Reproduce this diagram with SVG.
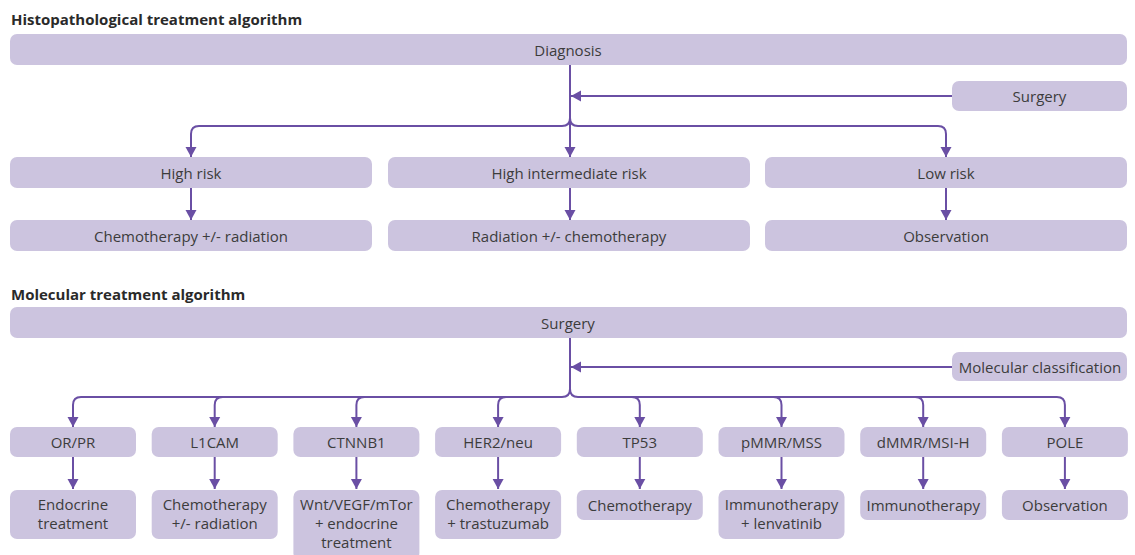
<svg xmlns="http://www.w3.org/2000/svg" width="1135" height="555" viewBox="0 0 1135 555">
<style>
.bg{fill:#ffffff}
.box{fill:#ccc4df}
.t{font-family:"Open Sans","Noto Sans",sans-serif;font-size:15px;fill:#3c3c3c;text-anchor:middle;dominant-baseline:central}
.title{font-family:"Open Sans","Noto Sans",sans-serif;font-size:15px;font-weight:bold;fill:#2a2a2a}
.c{fill:none;stroke:#6a4fa4;stroke-width:2}
</style>
<defs>
<marker id="ah" markerUnits="userSpaceOnUse" markerWidth="12" markerHeight="12" viewBox="0 0 12 12" refX="10" refY="6" orient="auto">
<path d="M0,0.5 L10,6 L0,11.5 Z" fill="#6a4fa4"/>
</marker>
</defs>
<rect class="bg" x="0" y="0" width="1135" height="555"/>

<text class="title" x="11" y="25">Histopathological treatment algorithm</text>
<text class="title" x="11" y="300">Molecular treatment algorithm</text>

<g id="connectors">
<path class="c" d="M570,65 V157" marker-end="url(#ah)"/>
<path class="c" d="M570,118 Q570,126 562,126 H199 Q191,126 191,134 V157" marker-end="url(#ah)"/>
<path class="c" d="M570,118 Q570,126 578,126 H938 Q946,126 946,134 V157" marker-end="url(#ah)"/>
<path class="c" d="M952,96 H571" marker-end="url(#ah)"/>
<path class="c" d="M191,187 V220" marker-end="url(#ah)"/>
<path class="c" d="M570,187 V220" marker-end="url(#ah)"/>
<path class="c" d="M946,187 V220" marker-end="url(#ah)"/>

<path class="c" d="M570,338 V389"/>
<path class="c" d="M952,367 H571" marker-end="url(#ah)"/>
<path class="c" d="M570,389 Q570,397 562,397 H81 Q73,397 73,405 V427" marker-end="url(#ah)"/>
<path class="c" d="M222.7,397 Q214.7,397 214.7,405 V427" marker-end="url(#ah)"/>
<path class="c" d="M364.4,397 Q356.4,397 356.4,405 V427" marker-end="url(#ah)"/>
<path class="c" d="M506.1,397 Q498.1,397 498.1,405 V427" marker-end="url(#ah)"/>
<path class="c" d="M570,389 Q570,397 578,397 H1056.9 Q1064.9,397 1064.9,405 V427" marker-end="url(#ah)"/>
<path class="c" d="M631.8,397 Q639.8,397 639.8,405 V427" marker-end="url(#ah)"/>
<path class="c" d="M773.5,397 Q781.5,397 781.5,405 V427" marker-end="url(#ah)"/>
<path class="c" d="M915.2,397 Q923.2,397 923.2,405 V427" marker-end="url(#ah)"/>

<path class="c" d="M73,457 V489" marker-end="url(#ah)"/>
<path class="c" d="M214.7,457 V489" marker-end="url(#ah)"/>
<path class="c" d="M356.4,457 V489" marker-end="url(#ah)"/>
<path class="c" d="M498.1,457 V489" marker-end="url(#ah)"/>
<path class="c" d="M639.8,457 V489" marker-end="url(#ah)"/>
<path class="c" d="M781.5,457 V489" marker-end="url(#ah)"/>
<path class="c" d="M923.2,457 V489" marker-end="url(#ah)"/>
<path class="c" d="M1064.9,457 V489" marker-end="url(#ah)"/>
</g>

<g id="n-diagnosis"><rect class="box" x="10" y="34" width="1117" height="31" rx="7"/><text class="t" x="568" y="49.5">Diagnosis</text></g>
<g id="n-surgery1"><rect class="box" x="952" y="81" width="175" height="30" rx="7"/><text class="t" x="1039.5" y="96">Surgery</text></g>
<g id="n-highrisk"><rect class="box" x="10" y="157" width="362" height="31" rx="7"/><text class="t" x="191" y="172.5">High risk</text></g>
<g id="n-hir"><rect class="box" x="388" y="157" width="362" height="31" rx="7"/><text class="t" x="569" y="172.5">High intermediate risk</text></g>
<g id="n-lowrisk"><rect class="box" x="765" y="157" width="362" height="31" rx="7"/><text class="t" x="946" y="172.5">Low risk</text></g>
<g id="n-chemorad"><rect class="box" x="10" y="220" width="362" height="31" rx="7"/><text class="t" x="191" y="235.5">Chemotherapy +/- radiation</text></g>
<g id="n-radchemo"><rect class="box" x="388" y="220" width="362" height="31" rx="7"/><text class="t" x="569" y="235.5">Radiation +/- chemotherapy</text></g>
<g id="n-obs1"><rect class="box" x="765" y="220" width="362" height="31" rx="7"/><text class="t" x="946" y="235.5">Observation</text></g>

<g id="n-surgery2"><rect class="box" x="10" y="307" width="1117" height="31" rx="7"/><text class="t" x="568" y="322.5">Surgery</text></g>
<g id="n-molclass"><rect class="box" x="952" y="352" width="175" height="29" rx="7"/><text class="t" x="1040" y="366.5">Molecular classification</text></g>

<g id="n-orpr"><rect class="box" x="10" y="427" width="126" height="30" rx="7"/><text class="t" x="73" y="442">OR/PR</text></g>
<g id="n-l1cam"><rect class="box" x="151.7" y="427" width="126" height="30" rx="7"/><text class="t" x="214.7" y="442">L1CAM</text></g>
<g id="n-ctnnb1"><rect class="box" x="293.4" y="427" width="126" height="30" rx="7"/><text class="t" x="356.4" y="442">CTNNB1</text></g>
<g id="n-her2"><rect class="box" x="435.1" y="427" width="126" height="30" rx="7"/><text class="t" x="498.1" y="442">HER2/neu</text></g>
<g id="n-tp53"><rect class="box" x="576.8" y="427" width="126" height="30" rx="7"/><text class="t" x="639.8" y="442">TP53</text></g>
<g id="n-pmmr"><rect class="box" x="718.5" y="427" width="126" height="30" rx="7"/><text class="t" x="781.5" y="442">pMMR/MSS</text></g>
<g id="n-dmmr"><rect class="box" x="860.2" y="427" width="126" height="30" rx="7"/><text class="t" x="923.2" y="442">dMMR/MSI-H</text></g>
<g id="n-pole"><rect class="box" x="1001.9" y="427" width="126" height="30" rx="7"/><text class="t" x="1064.9" y="442">POLE</text></g>

<g id="n-endo"><rect class="box" x="10" y="490" width="126" height="49" rx="7"/><text class="t" x="73" y="504">Endocrine</text><text class="t" x="73" y="523">treatment</text></g>
<g id="n-chemorad2"><rect class="box" x="151.7" y="490" width="126" height="49" rx="7"/><text class="t" x="214.7" y="504">Chemotherapy</text><text class="t" x="214.7" y="523">+/- radiation</text></g>
<g id="n-wnt"><rect class="box" x="293.4" y="490" width="126" height="70" rx="7"/><text class="t" x="356.4" y="504">Wnt/VEGF/mTor</text><text class="t" x="356.4" y="523">+ endocrine</text><text class="t" x="356.4" y="542">treatment</text></g>
<g id="n-chemotras"><rect class="box" x="435.1" y="490" width="126" height="49" rx="7"/><text class="t" x="498.1" y="504">Chemotherapy</text><text class="t" x="498.1" y="523">+ trastuzumab</text></g>
<g id="n-chemo"><rect class="box" x="576.8" y="490" width="126" height="30" rx="7"/><text class="t" x="639.8" y="505">Chemotherapy</text></g>
<g id="n-immlen"><rect class="box" x="718.5" y="490" width="126" height="49" rx="7"/><text class="t" x="781.5" y="504">Immunotherapy</text><text class="t" x="781.5" y="523">+ lenvatinib</text></g>
<g id="n-immuno"><rect class="box" x="860.2" y="490" width="126" height="30" rx="7"/><text class="t" x="923.2" y="505">Immunotherapy</text></g>
<g id="n-obs2"><rect class="box" x="1001.9" y="490" width="126" height="30" rx="7"/><text class="t" x="1064.9" y="505">Observation</text></g>
</svg>
